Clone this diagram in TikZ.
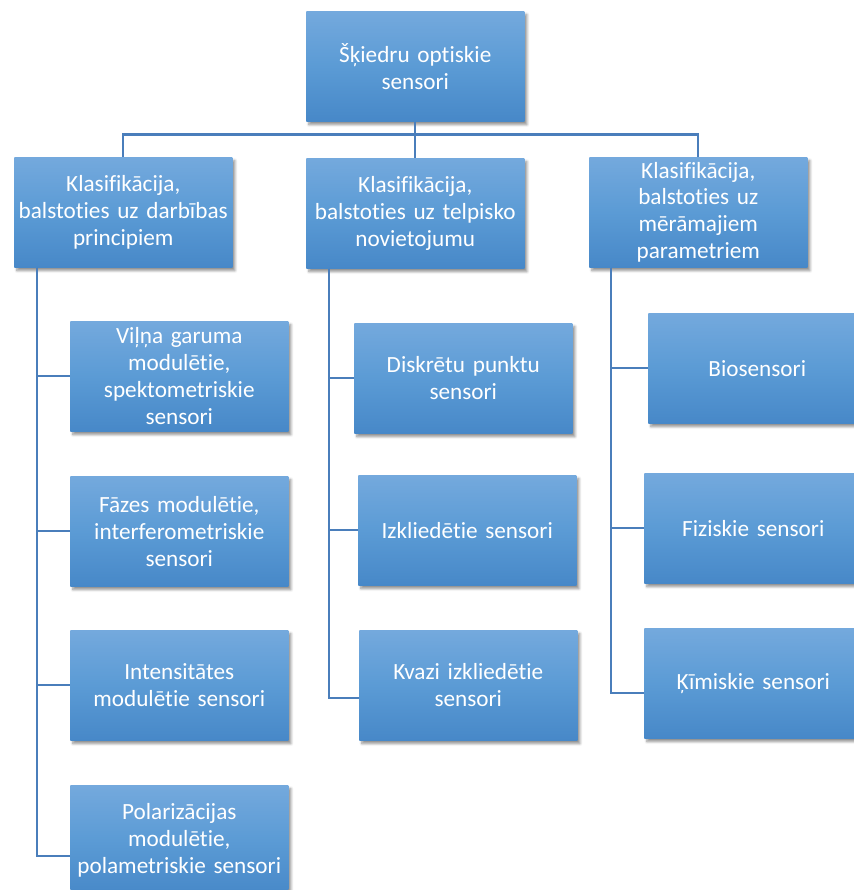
\documentclass[tikz,border=0pt]{standalone}
\usepackage{fontspec}
\setmainfont{Carlito}[Ligatures={NoCommon}]
\usepackage{xcolor}
\usetikzlibrary{positioning,shadows.blur}

\definecolor{boxtop}{HTML}{74A9DD}
\definecolor{boxmid}{HTML}{5B9BD5}
\definecolor{boxbot}{HTML}{4788C8}
\definecolor{linkblue}{HTML}{4A7EBB}

\begin{document}
\begin{tikzpicture}[x=0.75pt,y=-0.75pt,
    sensbox/.style={rectangle, anchor=north west, inner sep=0pt,
      minimum width={218*0.75pt}, minimum height={110*0.75pt},
      text width={214*0.75pt}, align=center,
      top color=boxtop, bottom color=boxbot, middle color=boxmid,
      text=white, font=\fontsize{17.4}{20.2}\selectfont,
      blur shadow={shadow xshift=2pt, shadow yshift=-2.5pt, shadow blur steps=6, shadow opacity=45}},
    link/.style={draw=linkblue, line width=1.6pt}]
      \clip (0,0) rectangle (854,890);
      \def \ls {23}   % vertical trunk offset from the box edge
      % top level
      \node[sensbox] (root) at (306,11) {Šķiedru optiskie\\sensori};
      \node[sensbox] (grpa) at (14,157) {Klasifikācija,\\balstoties uz darbības\\principiem};
      \node[sensbox] (grpb) at (306,158) {Klasifikācija,\\balstoties uz telpisko\\novietojumu};
      \node[sensbox] (grpc) at (589,157) {Klasifikācija,\\balstoties uz\\mērāmajiem\\parametriem};
      \draw[link] (root.south) -- ++(0,13) -| (grpa.north);
      \draw[link] (root.south) -- ++(0,13) -| (grpb.north);
      \draw[link] (root.south) -- ++(0,13) -| (grpc.north);
      % left column
      \node[sensbox] (pa1) at (70,321) {Viļņa garuma\\modulētie,\\spektometriskie\\sensori};
      \node[sensbox] (pa2) at (70,476) {Fāzes modulētie,\\interferometriskie\\sensori};
      \node[sensbox] (pa3) at (70,630) {Intensitātes\\modulētie sensori};
      \node[sensbox] (pa4) at (70,785) {Polarizācijas\\modulētie,\\polametriskie sensori};
      % middle column
      \node[sensbox] (pb1) at (354,323) {Diskrētu punktu\\sensori};
      \node[sensbox] (pb2) at (358,475) {Izkliedētie sensori};
      \node[sensbox] (pb3) at (359,630) {Kvazi izkliedētie\\sensori};
      % right column
      \node[sensbox] (pc1) at (648,313) {Biosensori};
      \node[sensbox] (pc2) at (644,473) {Fiziskie sensori};
      \node[sensbox] (pc3) at (644,628) {Ķīmiskie sensori};
      \foreach \s in {1,...,3}
               {
                 \draw[link] ([xshift=\ls*0.75pt]grpa.south west) |- (pa\s.west);
               }
      \foreach \s in {1,2}
               {
                 \draw[link] ([xshift=\ls*0.75pt]grpb.south west) |- (pb\s.west);
                 \draw[link] ([xshift=22*0.75pt]grpc.south west) |- (pc\s.west);
               }
      % the last links sit a little lower
      \draw[link] ([xshift=\ls*0.75pt]grpa.south west) |- ([yshift=-12pt]pa4.west);
      \draw[link] ([xshift=\ls*0.75pt]grpb.south west) |- ([yshift=-9.75pt]pb3.west);
      \draw[link] ([xshift=22*0.75pt]grpc.south west) |- ([yshift=-7.5pt]pc3.west);
    \end{tikzpicture}
\end{document}
